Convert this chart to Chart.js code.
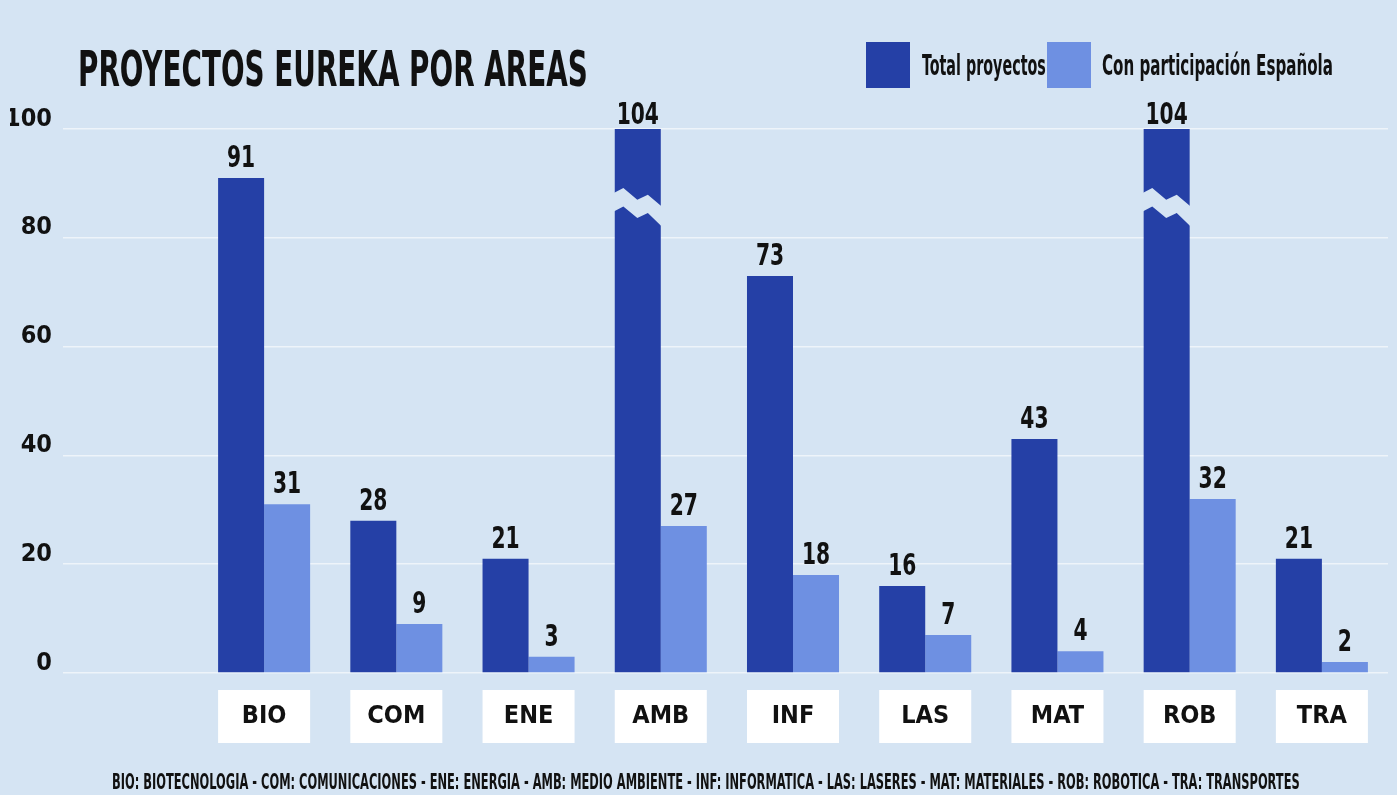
<!DOCTYPE html>
<html>
<head>
<meta charset="utf-8">
<script src="https://cdn.jsdelivr.net/npm/chart.js"></script>
<style>
  body { margin: 0; background: #d5e4f3; }
  #wrap {
    position: relative; width: 1397px; height: 795px; overflow: hidden;
    background: #d5e4f3; color: #111;
    font-family: "Liberation Sans Narrow", "DejaVu Sans Condensed", sans-serif; font-weight: bold;
  }
  #chart { position: absolute; left: 0; top: 0; }
  .fit { position: absolute; white-space: nowrap; line-height: 1; transform-origin: 0 50%; }
  .sq { position: absolute; width: 44px; height: 46px; }
</style>
</head>
<body>
<div id="wrap">
  <canvas id="chart" width="1397" height="795"></canvas>
  <div id="title" class="fit" style="left:78px; top:69px; font-size:49px">PROYECTOS EUREKA POR AREAS</div>
  <div id="legend"></div>
  <div id="footer" class="fit" style="left:112px; top:782px; font-size:21px"></div>
</div>
<script>
const categories = ["BIO", "COM", "ENE", "AMB", "INF", "LAS", "MAT", "ROB", "TRA"];
const totalProyectos = [91, 28, 21, 104, 73, 16, 43, 104, 21];
const conEspanola = [31, 9, 3, 27, 18, 7, 4, 32, 2];
const yTicks = [0, 20, 40, 60, 80, 100];
const seriesNames = ["Total proyectos", "Con participación Española"];
const footerText = "BIO: BIOTECNOLOGIA - COM: COMUNICACIONES - ENE: ENERGIA - AMB: MEDIO AMBIENTE - INF: INFORMATICA - LAS: LASERES - MAT: MATERIALES - ROB: ROBOTICA - TRA: TRANSPORTES";

const DARK = "#2540a6";
const LIGHT = "#6e90e2";
const BG = "#d5e4f3";
const FONT = '"Liberation Sans Narrow", "DejaVu Sans Condensed", sans-serif';

// squeeze a text line into the width it has in the print
function fit(el, w) {
  el.style.transform = "translateY(-50%) scaleX(" + (w / el.offsetWidth) + ")";
}

document.getElementById("footer").textContent = footerText;

// legend (html)
const legendPos = [{ sq: 866, tx: 922, w: 124 }, { sq: 1047, tx: 1102, w: 231 }];
const legend = document.getElementById("legend");
[DARK, LIGHT].forEach((col, i) => {
  const sq = document.createElement("div");
  sq.className = "sq";
  sq.style.cssText = "left:" + legendPos[i].sq + "px; top:42px; background:" + col;
  legend.appendChild(sq);
  const t = document.createElement("div");
  t.className = "fit";
  t.style.cssText = "left:" + legendPos[i].tx + "px; top:66px; font-size:28px";
  t.textContent = seriesNames[i];
  legend.appendChild(t);
  fit(t, legendPos[i].w);
});
fit(document.getElementById("title"), 510);
fit(document.getElementById("footer"), 1188);

const decor = {
  id: "decor",
  beforeDraw(chart) {
    // white boxes behind the category labels
    const ctx = chart.ctx, area = chart.chartArea;
    const m0 = chart.getDatasetMeta(0), m1 = chart.getDatasetMeta(1);
    ctx.save();
    ctx.fillStyle = "#fff";
    categories.forEach((c, i) => {
      const a = m0.data[i], b = m1.data[i];
      const l = a.x - a.width / 2, r = b.x + b.width / 2;
      ctx.fillRect(l, area.bottom + 17, r - l, 53);
    });
    ctx.restore();
  },
  afterDatasetsDraw(chart) {
    const ctx = chart.ctx, y = chart.scales.y, area = chart.chartArea;
    chart.data.datasets.forEach((ds, di) => {
      const meta = chart.getDatasetMeta(di);
      ds.data.forEach((v, i) => {
        const bar = meta.data[i];
        const over = v > y.max;
        if (over) {
          // zigzag break on bars taller than the scale
          const l = bar.x - bar.width / 2 - 1, w = bar.width + 2;
          const y0 = y.getPixelForValue(85.7);
          const up = [[0, -13.7], [0.2, -18.7], [0.49, -7], [0.71, -12], [1, -0.3]];
          const lo = [[1, 19.7], [0.71, 6.3], [0.49, 11.3], [0.2, -0.3], [0, 4.7]];
          ctx.save();
          ctx.fillStyle = BG;
          ctx.beginPath();
          up.concat(lo).forEach((p, k) => {
            const px = l + p[0] * w, py = y0 + p[1];
            if (k === 0) ctx.moveTo(px, py); else ctx.lineTo(px, py);
          });
          ctx.closePath();
          ctx.fill();
          ctx.restore();
        }
        const top = Math.max(bar.y, area.top);
        ctx.save();
        ctx.translate(bar.x, top - (over ? 5 : 11));
        ctx.scale(0.75, 1);
        ctx.font = "bold 30px " + FONT;
        ctx.fillStyle = "#111";
        ctx.textAlign = "center";
        ctx.textBaseline = "alphabetic";
        ctx.fillText(String(v), 0, 0);
        ctx.restore();
      });
    });
  }
};

new Chart(document.getElementById("chart"), {
  type: "bar",
  data: {
    labels: categories,
    datasets: [
      { label: seriesNames[0], data: totalProyectos, backgroundColor: DARK, clip: 0 },
      { label: seriesNames[1], data: conEspanola, backgroundColor: LIGHT, clip: 0 }
    ]
  },
  options: {
    responsive: false,
    animation: false,
    devicePixelRatio: 1,
    categoryPercentage: 0.696,
    barPercentage: 1,
    layout: { padding: { left: 10, right: 9, top: 129, bottom: 60 } },
    plugins: { legend: { display: false }, tooltip: { enabled: false } },
    scales: {
      x: {
        grid: { display: false, drawTicks: false },
        border: { display: false },
        ticks: { color: "#111", font: { family: FONT, size: 25, weight: "bold" }, padding: 28 },
        afterFit: (s) => { s.height = 62; }
      },
      y: {
        min: 0,
        max: 100,
        afterBuildTicks: (s) => { s.ticks = yTicks.map((v) => ({ value: v })); },
        grid: { color: "rgba(255,255,255,0.6)", lineWidth: 1.5, drawTicks: true, tickLength: 135 },
        border: { display: false },
        ticks: { color: "#111", font: { family: FONT, size: 25, weight: "bold" }, padding: 11, labelOffset: -10 },
        afterFit: (s) => { s.width = 188; }
      }
    }
  },
  plugins: [decor]
});
</script>
</body>
</html>
